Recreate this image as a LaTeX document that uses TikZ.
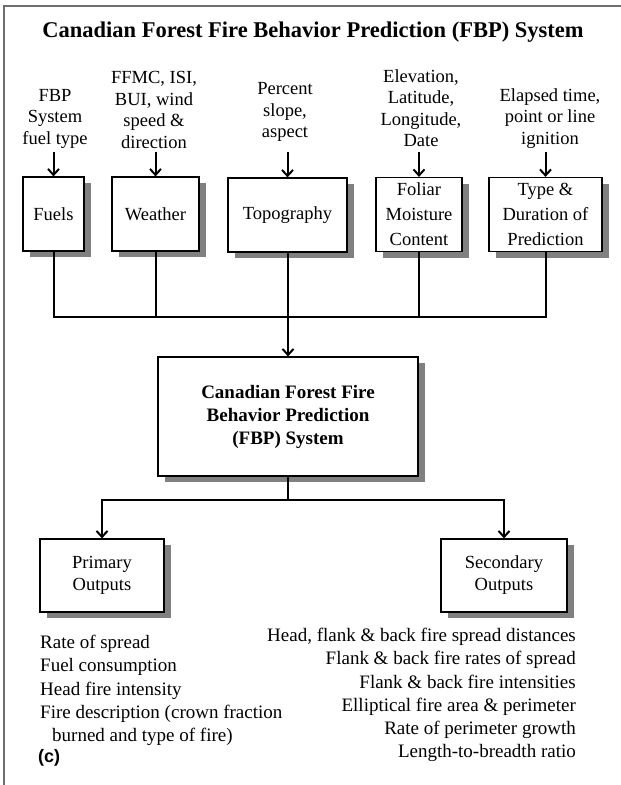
\documentclass[tikz,border=0pt]{standalone}
\usepackage{fontspec}
\setmainfont{LiberationSerif}[Extension=.ttf, UprightFont=*-Regular, BoldFont=*-Bold, ItalicFont=*-Italic, BoldItalicFont=*-BoldItalic]
\newfontfamily\labelsans{Liberation Sans}
\usetikzlibrary{arrows.meta,shadows}
\definecolor{shadowgray}{RGB}{128,128,128}
\definecolor{framegray}{RGB}{110,110,110}
\begin{document}
\begin{tikzpicture}[x=1pt,y=-1pt,
  titletxt/.style={font=\bfseries\fontsize{22.5}{26}\selectfont, inner sep=0pt},
  intxt/.style={font=\fontsize{18.5}{21.5}\selectfont, align=center, inner sep=0pt},
  boxn/.style={draw, line width=1.2pt, fill=white, align=center, inner sep=0pt,
    font=\fontsize{18.5}{25}\selectfont,
    drop shadow={shadow xshift=7pt, shadow yshift=-6pt, fill=shadowgray, opacity=1}},
  bigbox/.style={boxn, font=\bfseries\fontsize{19}{23}\selectfont},
  listtxt/.style={font=\fontsize{19}{23.25}\selectfont, inner sep=0pt},
  conn/.style={line width=2pt, line join=miter},
  arr/.style={conn, -{Straight Barb[length=6pt,width=11pt]}}
]
\useasboundingbox (0,0) rectangle (621,785);
\fill[white] (0,0) rectangle (621,785);
\draw[framegray, line width=1.5pt] (4,785) -- (4,6) -- (621,6);

% title
\node[titletxt] (title) at (313,32) {Canadian Forest Fire Behavior Prediction (FBP) System};

% inputs
\node[intxt] (in1) at (55,118.5) {FBP\\System\\fuel type};
\node[intxt] (in2) at (154,110) {FFMC, ISI,\\BUI, wind\\speed \&\\direction};
\node[intxt] (in3) at (285,112) {Percent\\slope,\\aspect};
\node[intxt] (in4) at (421,108) {Elevation,\\Latitude,\\Longitude,\\Date};
\node[intxt] (in5) at (550,118.5) {Elapsed time,\\point or line\\ignition};

% boxes
\node[boxn, minimum width=61pt, minimum height=74pt] (fuels) at (53.5,214) {Fuels};
\node[boxn, minimum width=87pt, minimum height=74pt] (weather) at (155.5,214) {Weather};
\node[boxn, minimum width=119pt, minimum height=74pt] (topo) at (287.5,215) {Topography};
\node[boxn, minimum width=86pt, minimum height=74pt] (foliar) at (419,214.5) {Foliar\\Moisture\\Content};
\node[boxn, minimum width=113pt, minimum height=74pt] (typ) at (545.5,214.5) {Type \&\\Duration of\\Prediction};

\node[bigbox, minimum width=260pt, minimum height=119pt] (big) at (288,416.5)
  {Canadian Forest Fire\\Behavior Prediction\\(FBP) System};

\node[boxn, minimum width=124pt, minimum height=73pt, font=\fontsize{18.5}{22}\selectfont] (prim) at (102,575.5) {Primary\\Outputs};
\node[boxn, minimum width=126pt, minimum height=73pt, font=\fontsize{18.5}{22}\selectfont] (sec) at (504,575.5) {Secondary\\Outputs};

% input arrows
\coordinate (arrtop) at (0,152);
\draw[arr] (fuels.north |- arrtop) -- (fuels.north);
\draw[arr] (weather.north |- arrtop) -- (weather.north);
\draw[arr] (topo.north |- arrtop) -- (topo.north);
\draw[arr] (foliar.north |- arrtop) -- (foliar.north);
\draw[arr] (typ.north |- arrtop) -- (typ.north);

% bus 1
\coordinate (bus1) at (0,317);
\draw[conn] (fuels.south) -- (fuels.south |- bus1) -- (typ.south |- bus1) -- (typ.south);
\draw[conn] (weather.south) -- (weather.south |- bus1);
\draw[conn] (topo.south) -- (topo.south |- bus1);
\draw[conn] (foliar.south) -- (foliar.south |- bus1);
\draw[arr] (big.north |- bus1) -- (big.north);

% bus 2
\coordinate (bus2) at (0,500);
\draw[conn] (big.south) -- (big.south |- bus2);
\draw[arr] (big.south |- bus2) -| (prim.north);
\draw[arr] (big.south |- bus2) -| (sec.north);

% lists
\node[listtxt, align=left, anchor=west] (plist) at (40,690.5)
  {Rate of spread\\Fuel consumption\\Head fire intensity\\Fire description (crown fraction\\\hspace*{12pt}burned and type of fire)};
\node[listtxt, align=right, anchor=east] (slist) at (576,695)
  {Head, flank \& back fire spread distances\\Flank \& back fire rates of spread\\Flank \& back fire intensities\\Elliptical fire area \& perimeter\\Rate of perimeter growth\\Length-to-breadth ratio};

\node[font=\labelsans\bfseries\fontsize{18}{20}\selectfont, inner sep=0pt, anchor=west] (lab) at (38,758) {(c)};
\end{tikzpicture}
\end{document}
